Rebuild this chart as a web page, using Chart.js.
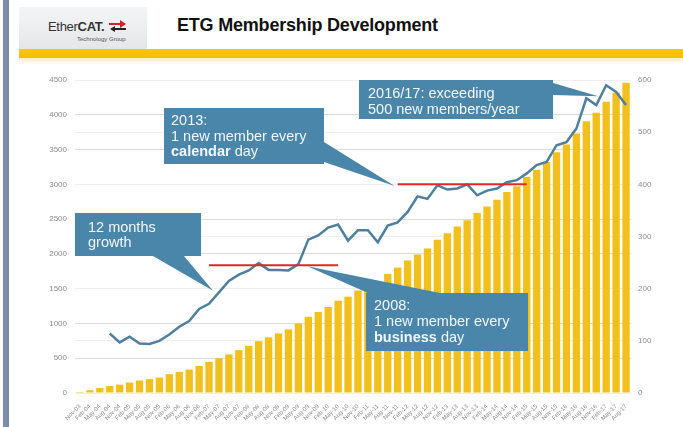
<html>
  <head>
    <script src="https://cdn.jsdelivr.net/npm/chart.js@4.4.0/dist/chart.umd.min.js"></script>
    <style>
      body {
        margin: 0;
        width: 683px;
        height: 427px;
        overflow: hidden;
        position: relative;
        background: #fff;
        font-family: "Liberation Sans", Arial, sans-serif;
      }
      .sidebar {
        position: absolute;
        left: 3px;
        top: 0;
        width: 6px;
        height: 427px;
        background: #7d8ca8;
      }
      .logo {
        position: absolute;
        left: 19px;
        top: 7px;
        width: 128px;
        height: 42px;
        background: linear-gradient(#f4f5f6, #e4e6e8);
      }
      .logo .name {
        position: absolute;
        left: 29px;
        top: 12px;
        font-size: 13px;
        color: #333;
        letter-spacing: -0.3px;
      }
      .logo .sub {
        position: absolute;
        left: 58px;
        top: 29px;
        font-size: 6px;
        color: #555;
      }
      .logo svg {
        position: absolute;
        left: 90px;
        top: 13px;
      }
      .title {
        position: absolute;
        left: 177px;
        top: 15px;
        font-size: 18px;
        font-weight: bold;
        letter-spacing: -0.2px;
        color: #111;
      }
      .band {
        position: absolute;
        left: 19px;
        right: 0;
        top: 49px;
        height: 9px;
        background: linear-gradient(#f8c800, #f3bd00);
      }
      .glow {
        position: absolute;
        left: 19px;
        right: 0;
        top: 58px;
        height: 7px;
        background: linear-gradient(#fdf1c4, #ffffff);
      }
      #chart {
        position: absolute;
        left: 0;
        top: 0;
      }
    </style>
  </head>

  <body>
    <div class="sidebar"></div>
    <div class="logo">
      <span class="name">Ether<b>CAT.</b></span>
      <svg width="18" height="12" viewBox="0 0 18 12">
        <polygon points="0,3 11,3 11,0 17,4 11,8 11,5 0,5" fill="#d4202a" />
        <polygon points="17,8 6,8 6,6 1,9 6,12 6,10 17,10" fill="#222" />
      </svg>
      <span class="sub">Technology Group</span>
    </div>
    <div class="title">ETG Membership Development</div>
    <div class="band"></div>
    <div class="glow"></div>
    <canvas id="chart" width="683" height="427"></canvas>

    <script>
      // quarterly snapshots
      const quarters = [
        "Nov-03", "Feb-04", "May-04", "Aug-04", "Nov-04",
        "Feb-05", "May-05", "Aug-05", "Nov-05",
        "Feb-06", "May-06", "Aug-06", "Nov-06",
        "Feb-07", "May-07", "Aug-07", "Nov-07",
        "Feb-08", "May-08", "Aug-08", "Nov-08",
        "Feb-09", "May-09", "Aug-09", "Nov-09",
        "Feb-10", "May-10", "Aug-10", "Nov-10",
        "Feb-11", "May-11", "Aug-11", "Nov-11",
        "Feb-12", "May-12", "Aug-12", "Nov-12",
        "Feb-13", "May-13", "Aug-13", "Nov-13",
        "Feb-14", "May-14", "Aug-14", "Nov-14",
        "Feb-15", "May-15", "Aug-15", "Nov-15",
        "Feb-16", "May-16", "Aug-16", "Nov-16",
        "Feb-17", "May-17", "Aug-17",
      ];

      // total members (left axis)
      const members = [
        15, 40, 72, 100, 120, 150, 180, 200, 222, 270, 303, 337, 390, 447,
        500, 554, 616, 678, 745, 800, 857, 914, 1000, 1096, 1164, 1236, 1327,
        1385, 1475, 1529, 1600, 1712, 1803, 1904, 1990, 2078, 2202, 2298,
        2394, 2485, 2587, 2683, 2779, 2890, 2971, 3106, 3210, 3320, 3460,
        3572, 3730, 3908, 4029, 4188, 4318, 4462,
      ];

      // new members over the last 12 months (right axis)
      const growth12m = [
        null, null, null, 114, 97, 108, 95, 94, 100, 112, 127, 138, 161, 171,
        193, 215, 227, 235, 249, 236, 236, 235, 247, 294, 302, 317, 323, 292,
        312, 312, 289, 321, 327, 347, 377, 372, 398, 390, 392, 400, 379, 388,
        392, 404, 408, 421, 437, 443, 475, 481, 507, 565, 552, 590, 577, 552,
      ];

      // reference levels: business days (2008) and calendar days (2013)
      const level2008 = 245;
      const span2008 = ["Feb-07", "May-10"];
      const level2013 = 400;
      const span2013 = ["Nov-11", "Feb-15"];

      const boxColor = "#4a86aa";
      const textColor = "#f3f7fa";

      // callouts: box in pixels, tip in data units (quarter index, right axis)
      const callouts = [
        {
          box: [75, 213, 201, 256],
          base: [[153, 256], [184, 256]],
          tip: [13.4, 196],
          text: [[["12 months", false]], [["growth", false]]],
          pos: [88, 232, 15],
        },
        {
          box: [164, 108, 324, 164],
          base: [[324, 142], [324, 162]],
          tip: [31.7, 397],
          text: [
            [["2013:", false]],
            [["1 new member every", false]],
            [["calendar", true], [" day", false]],
          ],
          pos: [171, 125, 15.7],
        },
        {
          box: [359, 80, 553, 119],
          base: [[553, 83], [553, 95]],
          tip: [52.2, 569],
          text: [
            [["2016/17: exceeding", false]],
            [["500 new members/year", false]],
          ],
          pos: [368, 98, 15.5],
        },
        {
          box: [366, 293, 528, 351],
          base: [[368, 293], [440, 293]],
          tip: [22.9, 243],
          text: [
            [["2008:", false]],
            [["1 new member every", false]],
            [["business", true], [" day", false]],
          ],
          pos: [374, 310, 16],
        },
      ];

      const calloutPlugin = {
        id: "callouts",
        afterDatasetsDraw: (chart) => {
          const ctx = chart.ctx;
          const xs = chart.scales.x;
          const ys = chart.scales.y1;
          ctx.save();
          for (const c of callouts) {
            const [x0, y0, x1, y1] = c.box;
            ctx.fillStyle = boxColor;
            ctx.fillRect(x0, y0, x1 - x0, y1 - y0);
            ctx.beginPath();
            ctx.moveTo(c.base[0][0], c.base[0][1]);
            ctx.lineTo(xs.getPixelForValue(c.tip[0]), ys.getPixelForValue(c.tip[1]));
            ctx.lineTo(c.base[1][0], c.base[1][1]);
            ctx.closePath();
            ctx.fill();
            ctx.fillStyle = textColor;
            ctx.textBaseline = "alphabetic";
            ctx.textAlign = "left";
            c.text.forEach((line, i) => {
              let x = c.pos[0];
              const y = c.pos[1] + i * c.pos[2];
              for (const [str, bold] of line) {
                ctx.font = (bold ? "bold " : "") + '14.5px "Liberation Sans", Arial, sans-serif';
                ctx.fillText(str, x, y);
                x += ctx.measureText(str).width;
              }
            });
          }
          ctx.restore();
        },
      };

      const redLine = (span, level) => span.map((q) => ({ x: q, y: level }));

      new Chart(document.getElementById("chart"), {
        type: "bar",
        data: {
          labels: quarters,
          datasets: [
            {
              type: "line",
              label: "2013 level",
              data: redLine(span2013, level2013),
              yAxisID: "y1",
              borderColor: "#e4262b",
              borderWidth: 2,
              pointRadius: 0,
              order: 1,
            },
            {
              type: "line",
              label: "2008 level",
              data: redLine(span2008, level2008),
              yAxisID: "y1",
              borderColor: "#e4262b",
              borderWidth: 2,
              pointRadius: 0,
              order: 1,
            },
            {
              type: "line",
              label: "12 months growth",
              data: growth12m,
              yAxisID: "y1",
              borderColor: "#4e7f9c",
              borderWidth: 2.5,
              pointRadius: 0,
              tension: 0,
              order: 2,
            },
            {
              label: "Members",
              data: members,
              yAxisID: "y",
              backgroundColor: "#f2c01c",
              categoryPercentage: 0.74,
              barPercentage: 1,
              order: 3,
            },
          ],
        },
        options: {
          responsive: false,
          animation: false,
          devicePixelRatio: 1,
          layout: { padding: { top: 80, left: 0, right: 0, bottom: 0 } },
          plugins: {
            legend: { display: false },
            tooltip: { enabled: false },
          },
          scales: {
            x: {
              grid: { display: false },
              border: { display: false },
              ticks: {
                autoSkip: false,
                minRotation: 45,
                maxRotation: 45,
                padding: 2,
                color: "#8a8a8a",
                font: { size: 6, family: "Liberation Sans" },
              },
              afterFit: (scale) => {
                scale.height = 34;
              },
            },
            y: {
              position: "left",
              min: 0,
              max: 4500,
              ticks: {
                stepSize: 500,
                padding: 8,
                color: "#8c8c8c",
                font: { size: 8, family: "Liberation Sans" },
                callback: (v) => String(v),
              },
              grid: { color: "#dcdcdc", drawTicks: false },
              border: { display: false },
              afterFit: (scale) => {
                scale.width = 75;
              },
            },
            y1: {
              position: "right",
              min: 0,
              max: 600,
              ticks: {
                stepSize: 100,
                padding: 7,
                color: "#8c8c8c",
                font: { size: 8, family: "Liberation Sans" },
                callback: (v) => String(v),
              },
              grid: { color: "#efefef", drawTicks: false },
              border: { display: false },
              afterFit: (scale) => {
                scale.width = 52;
              },
            },
          },
        },
        plugins: [calloutPlugin],
      });
    </script>
  </body>
</html>
